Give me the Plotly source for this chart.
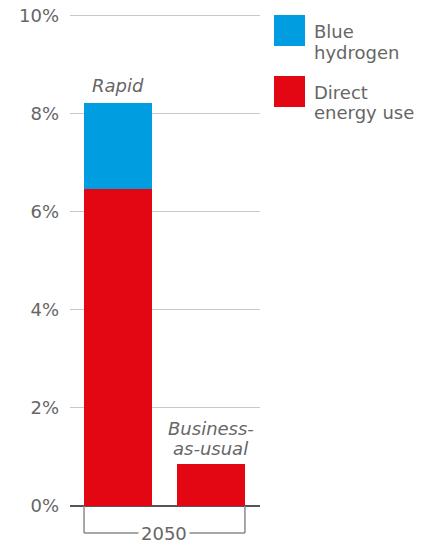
import plotly.graph_objects as go

scenarios = ["Rapid", "Business-as-usual"]
scenario_label_lines = [["Rapid"], ["Business-", "as-usual"]]
direct_energy_use = [6.47, 0.86]
blue_hydrogen = [1.75, 0.0]
year_label = "2050"
series_names = ["Direct energy use", "Blue hydrogen"]
legend_label_lines = [["Blue", "hydrogen"], ["Direct", "energy use"]]
y_ticks = [0, 2, 4, 6, 8, 10]
y_tick_text = ["0%", "2%", "4%", "6%", "8%", "10%"]

RED = "#e30613"
BLUE = "#009ee0"
GREY = "#666666"
FONT = "DejaVu Sans"
FS = 18
TXT = dict(family=FONT, size=FS, color=GREY)

W, H = 436, 545
ML, MR, MT, MB = 70, 176, 14, 39
PH = H - MT - MB  # plot height in px


def py(page_y):
    """page y pixel -> paper fraction"""
    return (H - MB - page_y) / PH


def px(page_x):
    return (page_x - ML) / (W - ML - MR)


fig = go.Figure()
fig.add_trace(go.Bar(x=scenarios, y=direct_energy_use, name=series_names[0],
                     marker=dict(color=RED, line=dict(width=0)), width=0.73,
                     showlegend=False, hoverinfo="skip"))
fig.add_trace(go.Bar(x=scenarios, y=blue_hydrogen, name=series_names[1],
                     marker=dict(color=BLUE, line=dict(width=0)), width=0.73,
                     showlegend=False, hoverinfo="skip"))

totals = [a + b for a, b in zip(direct_energy_use, blue_hydrogen)]
annotations = []
for s, lines, t in zip(scenarios, scenario_label_lines, totals):
    n = len(lines)
    base = 5 if n == 1 else 3
    for i, line in enumerate(lines):
        annotations.append(dict(x=s, y=t, xref="x", yref="y", text=f"<i>{line}</i>",
                                showarrow=False, yanchor="bottom",
                                yshift=base + (n - 1 - i) * 20, font=TXT))

by = py(533)
annotations.append(dict(x=0.5, y=by, xref="x", yref="paper", text=year_label,
                        showarrow=False, yanchor="middle", xanchor="center",
                        bgcolor="white", borderpad=2, font=TXT))

bl = dict(color="#8a8a8a", width=1.5)
shapes = [
    dict(type="line", xref="x", yref="paper", x0=-0.365, x1=-0.365, y0=0, y1=by, line=bl),
    dict(type="line", xref="x", yref="paper", x0=1.365, x1=1.365, y0=0, y1=by, line=bl),
    dict(type="line", xref="x", yref="paper", x0=-0.365, x1=1.365, y0=by, y1=by, line=bl),
]

legend_colors = [BLUE, RED]
sw_y = [(15, 46), (76, 107)]
txt_y = [(31.5, 52.5), (92, 113)]
for c, (t0, t1), tys, lines in zip(legend_colors, sw_y, txt_y, legend_label_lines):
    shapes.append(dict(type="rect", xref="paper", yref="paper", x0=px(274), x1=px(305),
                       y0=py(t1), y1=py(t0), fillcolor=c, line=dict(width=0)))
    for ty, line in zip(tys, lines):
        annotations.append(dict(x=px(312), y=py(ty), xref="paper", yref="paper", text=line,
                                showarrow=False, xanchor="left", yanchor="middle",
                                align="left", font=TXT))

fig.update_layout(
    width=W, height=H,
    margin=dict(l=ML, r=MR, t=MT, b=MB),
    barmode="stack",
    plot_bgcolor="white", paper_bgcolor="white",
    font=TXT,
    showlegend=False,
    hovermode=False,
    annotations=annotations,
    shapes=shapes,
    xaxis=dict(range=[-0.516, 1.527], showticklabels=False, showgrid=False,
               zeroline=False, showline=False, ticks="", automargin=False),
    yaxis=dict(range=[0, 10.04], tickvals=y_ticks, ticktext=y_tick_text,
               showgrid=True, gridcolor="#c8c8c8", gridwidth=1,
               zeroline=True, zerolinecolor="#555555", zerolinewidth=2,
               showline=False, ticks="", ticklabelstandoff=10,
               ticklabeloverflow="allow", tickfont=TXT, automargin=False),
)

fig.write_html("out.html", config={"displayModeBar": False},
               post_script="document.body.style.margin='0';document.body.style.overflow='hidden';")
